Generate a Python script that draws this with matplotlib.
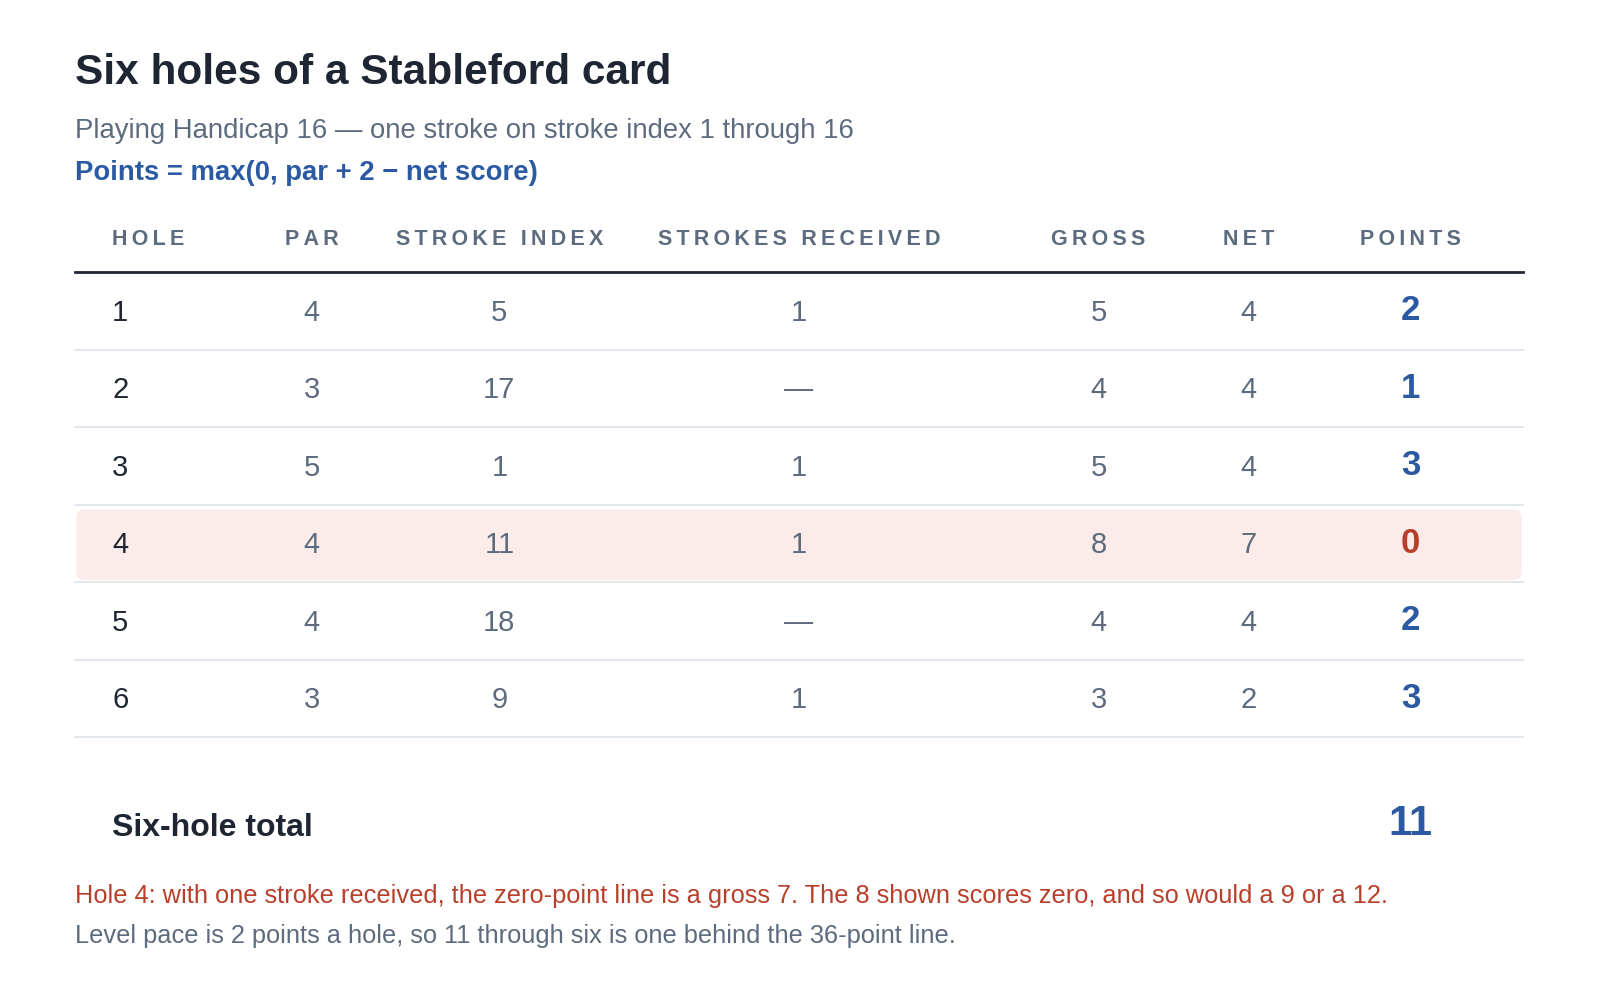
import matplotlib
matplotlib.use("Agg")
import matplotlib.pyplot as plt
from matplotlib.patches import FancyBboxPatch

plt.rcParams['font.family'] = ['Liberation Sans', 'DejaVu Sans']

headers = ["HOLE", "PAR", "STROKE INDEX", "STROKES RECEIVED", "GROSS", "NET", "POINTS"]
holes = ["1", "2", "3", "4", "5", "6"]
par = ["4", "3", "5", "4", "4", "3"]
stroke_index = ["5", "17", "1", "11", "18", "9"]
received = ["1", "—", "1", "1", "—", "1"]
gross = ["5", "4", "5", "8", "4", "3"]
net = ["4", "4", "4", "7", "4", "2"]
points = ["2", "1", "3", "0", "2", "3"]
total = "11"

DARK = "#1f2633"
GRAY = "#5d6b7e"
BLUE = "#2b5aa3"
RED = "#b83f2a"

fig = plt.figure(figsize=(16, 10), dpi=100)
ax = fig.add_axes([0, 0, 1, 1])
ax.set_xlim(0, 1570)
ax.set_ylim(981, 0)
ax.axis("off")

def spaced(s):
    return "\u2009".join(s)

ax.text(74, 72, "Six holes of a Stableford card", fontsize=30.5, fontweight="bold", color=DARK, va="center")
ax.text(74, 129, "Playing Handicap 16 — one stroke on stroke index 1 through 16", fontsize=19.8, color=GRAY, va="center")
ax.text(74, 170, "Points = max(0, par + 2 − net score)", fontsize=19.8, fontweight="bold", color=BLUE, va="center")

xs = [110, 306, 490, 784, 1078, 1225, 1384]
for i, h in enumerate(headers):
    ax.text(xs[i], 235, spaced(h), fontsize=15.5, fontweight="bold", color=GRAY,
            ha="left" if i == 0 else "center", va="center")
ax.plot([74, 1494], [267, 267], color=DARK, lw=2)

y0, dy = 307, 76
ax.add_patch(FancyBboxPatch((75, y0 + 3 * dy - 35), 1418, 69,
                            boxstyle="round,pad=0,rounding_size=8",
                            fc="#fbece9", ec="none", zorder=0))
cols = [par, stroke_index, received, gross, net]
for r in range(len(holes)):
    y = y0 + r * dy
    ax.text(xs[0], y, holes[r], fontsize=21, color=DARK, va="center")
    for c, col in enumerate(cols):
        ax.text(xs[c + 1], y, col[r], fontsize=21, color=GRAY, ha="center", va="center")
    pc = RED if points[r] == "0" else BLUE
    ax.text(xs[6], y - 2, points[r], fontsize=25, fontweight="bold", color=pc, ha="center", va="center")
    ax.plot([74, 1494], [y + 36, y + 36], color="#dde3ea", lw=1.2)

ax.text(110, 812, "Six-hole total", fontsize=23, fontweight="bold", color=DARK, va="center")
ax.text(1384, 808, total, fontsize=30, fontweight="bold", color=BLUE, ha="center", va="center")

ax.text(74, 879, "Hole 4: with one stroke received, the zero-point line is a gross 7. The 8 shown scores zero, and so would a 9 or a 12.",
        fontsize=18.3, color=RED, va="center")
ax.text(74, 918, "Level pace is 2 points a hole, so 11 through six is one behind the 36-point line.",
        fontsize=18.3, color=GRAY, va="center")

fig.savefig("out.png", dpi=100, facecolor="white")
